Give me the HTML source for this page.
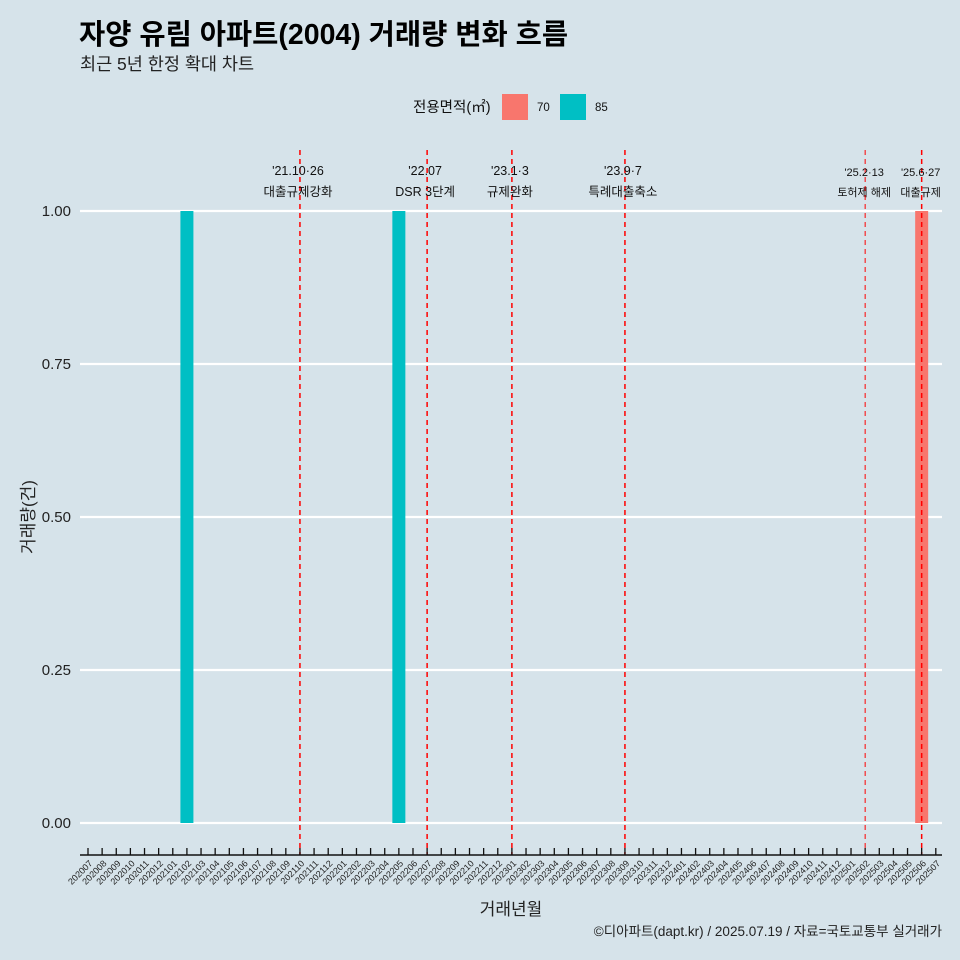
<!DOCTYPE html>
<html><head><meta charset="utf-8"><style>
body{margin:0;background:#d6e3ea;font-family:"Liberation Sans","Noto Sans CJK KR",sans-serif;overflow:hidden}
svg{display:block}
</style></head><body>
<svg width="960" height="960" xmlns="http://www.w3.org/2000/svg" font-family="Liberation Sans, Noto Sans CJK KR, sans-serif">
<rect width="960" height="960" fill="#d6e3ea"/>
<text x="79" y="44" font-size="28.5" font-weight="bold" fill="#000">자양 유림 아파트(2004) 거래량 변화 흐름</text>
<text x="80" y="70" font-size="17.5" fill="#222">최근 5년 한정 확대 차트</text>
<g>
<text x="413" y="112" font-size="14.5" fill="#111">전용면적(㎡)</text>
<rect x="502" y="94" width="26" height="26" fill="#f8766d"/>
<text x="537" y="111" font-size="11.5" fill="#111">70</text>
<rect x="560" y="94" width="26" height="26" fill="#00bfc4"/>
<text x="595" y="111" font-size="11.5" fill="#111">85</text>
</g>
<g id="grid"></g><g id="bars"></g><g id="vlines"></g><g id="xaxis"></g><g id="yaxis"></g>
<text transform="translate(34,517) rotate(-90)" text-anchor="middle" font-size="17" fill="#222">거래량(건)</text>
<text x="511" y="915" text-anchor="middle" font-size="17" fill="#222">거래년월</text>
<text x="942" y="936" text-anchor="end" font-size="13.5" fill="#222">©디아파트(dapt.kr) / 2025.07.19 / 자료=국토교통부 실거래가</text>
</svg>
<script>
const months=[];for(let y=2020;y<=2025;y++)for(let m=1;m<=12;m++){const k=y*100+m;if(k>=202007&&k<=202507)months.push(String(k));}
const barMonths=["202102","202205","202506"];
const barValues=[1,1,1];
const barSeries=["85","85","70"];
const yTicks=[0,0.25,0.5,0.75,1];
const yTickLabels=["0.00","0.25","0.50","0.75","1.00"];
const eventMonths=["202110","202207","202301","202309","202502","202506"];
const eventDates=["'21.10·26","'22.07","'23.1·3","'23.9·7","'25.2·13","'25.6·27"];
const eventLabels=["대출규제강화","DSR 3단계","규제완화","특례대출축소","토허제 해제","대출규제"];
const colors={"70":"#f8766d","85":"#00bfc4"};
const NS="http://www.w3.org/2000/svg";
const X=m=>88+months.indexOf(m)*14.13;
const Y=v=>823-v*612;
function mk(t,a,p){const e=document.createElementNS(NS,t);for(const k in a)e.setAttribute(k,a[k]);document.getElementById(p).appendChild(e);return e;}
yTicks.forEach((v,i)=>{
 const l=mk('line',{x1:80,x2:942,y1:Y(v),y2:Y(v),stroke:'#fff','stroke-width':2.2},'grid');
 
 
 const t=mk('text',{x:71,y:Y(v)+5,'text-anchor':'end','font-size':15,fill:'#222'},'yaxis');t.textContent=yTickLabels[i];
 
 
});
barMonths.forEach((m,i)=>{
 const r=mk('rect',{x:X(m)-6.5,y:Y(barValues[i]),width:13,height:Y(0)-Y(barValues[i]),fill:colors[barSeries[i]]},'bars');
 
 
});
eventMonths.forEach((m,i)=>{
 const x=X(m),small=i>=4;
 const l=mk('line',{x1:x,x2:x,y1:150,y2:855,stroke:'#ff0000','stroke-width':small&&i==4?1:1.5,'stroke-dasharray':'5,4'},'vlines');
 
 
 const fs=small?11:12.5;
 const tx=x-(small?1:2);
 const t1=mk('text',{x:tx,y:small?176:175,'text-anchor':'middle','font-size':fs,fill:'#111'},'vlines');t1.textContent=eventDates[i];
 
 
 const t2=mk('text',{x:tx,y:196,'text-anchor':'middle','font-size':fs,fill:'#111'},'vlines');t2.textContent=eventLabels[i];
 
 
});
const ax=mk('line',{x1:80,x2:942,y1:855,y2:855,stroke:'#111','stroke-width':1.5},'xaxis');


months.forEach(m=>{
 const x=X(m);
 const tk=mk('line',{x1:x,x2:x,y1:848,y2:855,stroke:'#111','stroke-width':1.3},'xaxis');
 
 
 const t=mk('text',{x:x+5,y:864,'text-anchor':'end','font-size':9,fill:'#222',transform:`rotate(-45 ${x+5} 864)`},'xaxis');t.textContent=m;
 
 
});
</script>
</body></html>
